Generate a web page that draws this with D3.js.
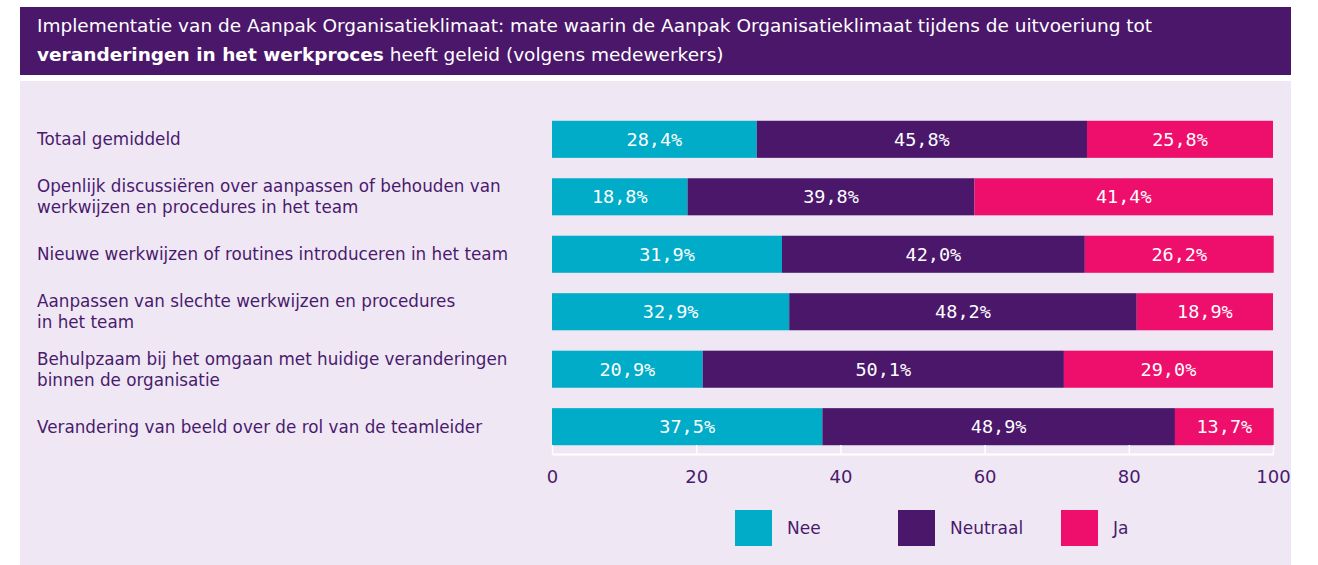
<!DOCTYPE html>
<html>
<head>
<meta charset="utf-8">
<script src="https://cdn.jsdelivr.net/npm/d3@7"></script>
<style>
  body { margin: 0; background: #ffffff; }
  svg { display: block; }
</style>
</head>
<body>
<svg id="chart"></svg>
<script>
// categories (each entry is a list of lines)
const categories = [
    ["Totaal gemiddeld"],
    ["Openlijk discussiëren over aanpassen of behouden van", "werkwijzen en procedures in het team"],
    ["Nieuwe werkwijzen of routines introduceren in het team"],
    ["Aanpassen van slechte werkwijzen en procedures", "in het team"],
    ["Behulpzaam bij het omgaan met huidige veranderingen", "binnen de organisatie"],
    ["Verandering van beeld over de rol van de teamleider"]
];

// series values in percent
const seriesNames = ["Nee", "Neutraal", "Ja"];
const nee = [28.4, 18.8, 31.9, 32.9, 20.9, 37.5];
const neutraal = [45.8, 39.8, 42.0, 48.2, 50.1, 48.9];
const ja = [25.8, 41.4, 26.2, 18.9, 29.0, 13.7];

const tickValues = [0, 20, 40, 60, 80, 100];

const colors = ["#00acc8", "#4a176b", "#ee0e6c"];
const textColor = "#4a1a6e";

const width = 1318, height = 565;
const svg = d3.select("#chart").attr("width", width).attr("height", height);

// title box
svg.append("rect")
    .attr("x", 20).attr("y", 7).attr("width", 1271).attr("height", 68)
    .attr("fill", "#4b176b");

const title = svg.append("text")
    .attr("font-family", "DejaVu Sans")
    .attr("font-size", "18.5px")
    .attr("fill", "#ffffff");
title.append("tspan").attr("x", 37).attr("y", 32)
    .text("Implementatie van de Aanpak Organisatieklimaat: mate waarin de Aanpak Organisatieklimaat tijdens de uitvoeriung tot");
title.append("tspan").attr("x", 37).attr("y", 61)
    .attr("font-weight", "bold").text("veranderingen in het werkproces");
title.append("tspan").text(" heeft geleid (volgens medewerkers)");

// panel background
svg.append("rect")
    .attr("x", 20).attr("y", 81).attr("width", 1271).attr("height", 484)
    .attr("fill", "#efe8f4");

const x = d3.scaleLinear().domain([0, 100]).range([552, 1273]);
const y = d3.scaleBand()
    .domain(d3.range(categories.length))
    .range([111, 455])
    .paddingInner(0.355)
    .paddingOuter(0.17);

// stack the three series
const rows = categories.map((c, i) => ({ Nee: nee[i], Neutraal: neutraal[i], Ja: ja[i] }));
const stacked = d3.stack().keys(seriesNames)(rows);

const layers = svg.append("g").selectAll("g")
    .data(stacked)
    .join("g")
    .attr("fill", (d, i) => colors[i]);

layers.selectAll("rect")
    .data(d => d)
    .join("rect")
    .attr("x", d => x(d[0]))
    .attr("y", (d, i) => y(i))
    .attr("width", d => x(d[1]) - x(d[0]))
    .attr("height", y.bandwidth());

layers.selectAll("text")
    .data(d => d.map(v => ({ v: v, key: d.key })))
    .join("text")
    .attr("x", d => (x(d.v[0]) + x(d.v[1])) / 2)
    .attr("y", (d, i) => y(i) + y.bandwidth() / 2)
    .attr("dy", "0.35em")
    .attr("text-anchor", "middle")
    .attr("font-family", "DejaVu Sans Mono")
    .attr("font-size", "18.5px")
    .attr("fill", "#ffffff")
    .text(d => d3.format(".1f")(d.v.data[d.key]).replace(".", ",") + "%");

// category labels
const labels = svg.append("g")
    .selectAll("text")
    .data(categories)
    .join("text")
    .attr("font-family", "DejaVu Sans")
    .attr("font-size", "16.8px")
    .attr("fill", textColor)
    .attr("y", (d, i) => y(i) + y.bandwidth() / 2 - (d.length - 1) * 10.5);

labels.selectAll("tspan")
    .data(d => d)
    .join("tspan")
    .attr("x", 37)
    .attr("dy", (d, i) => i === 0 ? "0.35em" : "21px")
    .text(d => d);

// x axis
const axis = svg.append("g")
    .attr("transform", "translate(0,454)")
    .call(d3.axisBottom(x).tickValues(tickValues).tickSize(0).tickPadding(16));
axis.select(".domain").attr("stroke", "#ffffff").attr("stroke-width", 2);
axis.selectAll(".tick line").remove();
axis.selectAll(".tick").append("line")
    .attr("y1", 0).attr("y2", -9)
    .attr("stroke", "#ffffff").attr("stroke-width", 1.5);
axis.selectAll(".tick text")
    .attr("font-family", "DejaVu Sans")
    .attr("font-size", "18px")
    .attr("fill", textColor);

// legend
const legendX = d3.scalePoint().domain(seriesNames).range([735, 1061]);
const legend = svg.append("g").selectAll("g")
    .data(seriesNames)
    .join("g")
    .attr("transform", d => `translate(${legendX(d)},510)`);
legend.append("rect")
    .attr("width", 37).attr("height", 36)
    .attr("fill", (d, i) => colors[i]);
legend.append("text")
    .attr("x", 52).attr("y", 18).attr("dy", "0.35em")
    .attr("font-family", "DejaVu Sans")
    .attr("font-size", "17px")
    .attr("fill", textColor)
    .text(d => d);
</script>
</body>
</html>
